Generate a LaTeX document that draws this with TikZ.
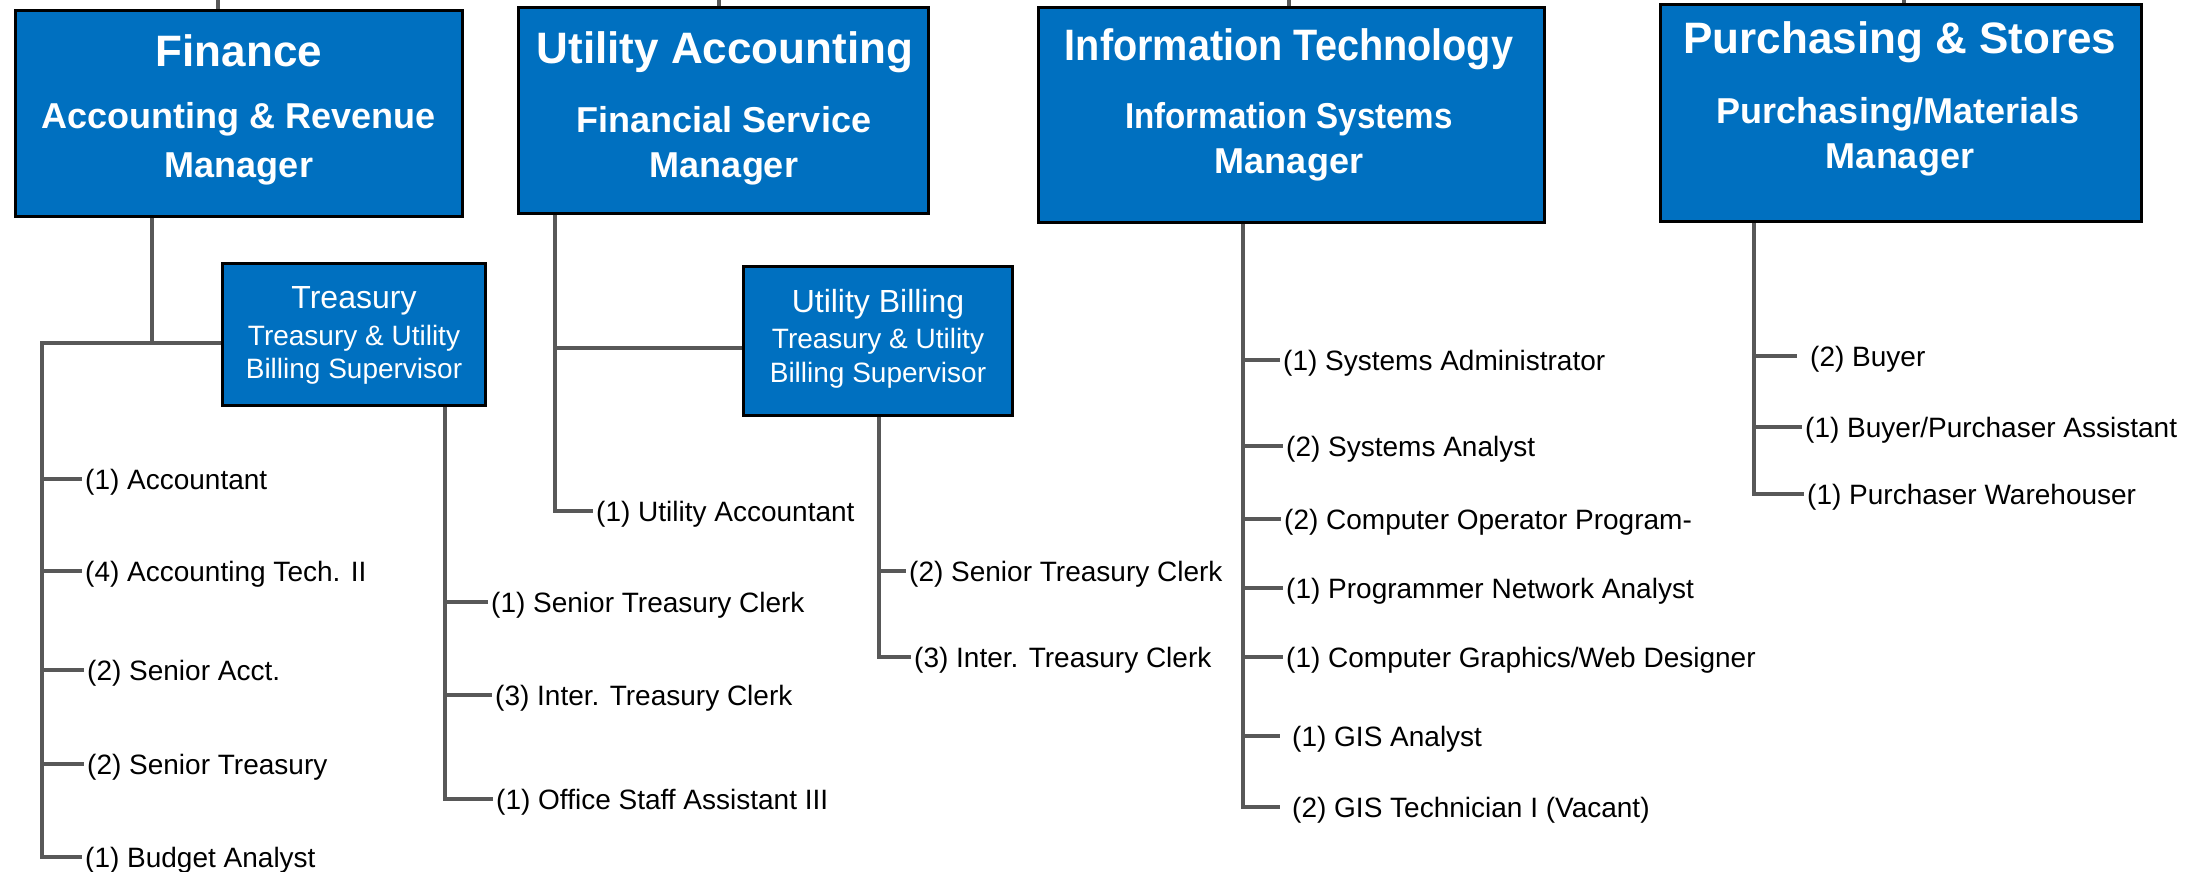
\documentclass[tikz,border=0pt]{standalone}
\usepackage{fontspec}
\usepackage{graphicx}
\setmainfont{Liberation Sans}
\definecolor{boxblue}{RGB}{0,112,192}
\definecolor{linegray}{RGB}{88,88,88}
\pgfdeclarelayer{bg}
\pgfsetlayers{bg,main}
\begin{document}
\begin{tikzpicture}[x=1pt,y=-1pt,
  bigbox/.style={draw=black, line width=3.2pt, fill=boxblue, inner sep=0pt},
  ttl/.style={anchor=base, inner sep=0pt, text=white, font=\fontsize{44}{48}\selectfont\bfseries},
  sub/.style={anchor=base, inner sep=0pt, text=white, font=\fontsize{36}{40}\selectfont\bfseries},
  sttl/.style={anchor=base, inner sep=0pt, text=white, font=\fontsize{32}{36}\selectfont},
  ssub/.style={anchor=base, inner sep=0pt, text=white, font=\fontsize{28}{32}\selectfont},
  leaf/.style={anchor=west, inner xsep=3pt, inner ysep=0pt, text height=20pt, text depth=0pt, font=\fontsize{28}{30}\selectfont},
  conn/.style={draw=linegray, line width=3.2pt}]
\useasboundingbox (0,0) rectangle (2201,871);

% ---------- top boxes ----------
\node[bigbox, minimum width=447pt, minimum height=206pt] (fin) at (239,113.5) {};
\node[ttl] (finT) at (239,66) {Finance};
\node[sub] (finS1) at (239,128) {Accounting \& Revenue};
\node[sub] (finS2) at (239,177) {Manager};

\node[bigbox, minimum width=410pt, minimum height=206pt] (ua) at (723.5,110.5) {};
\node[ttl] (uaT) at (725,63) {Utility Accounting};
\node[sub] (uaS1) at (724,132) {Financial Service};
\node[sub] (uaS2) at (724,177) {Manager};

\node[bigbox, minimum width=506pt, minimum height=215pt] (it) at (1291.5,115) {};
\node[ttl] (itT) at (1289,60) {\scalebox{0.9}[1]{Information Technology}};
\node[sub] (itS1) at (1289,128) {\scalebox{0.92}[1]{Information Systems}};
\node[sub] (itS2) at (1289,173) {Manager};

\node[bigbox, minimum width=481pt, minimum height=217pt] (ps) at (1901,113) {};
\node[ttl] (psT) at (1900,53) {Purchasing \& Stores};
\node[sub] (psS1) at (1898,123) {Purchasing/Materials};
\node[sub] (psS2) at (1900,168) {Manager};

% ---------- second-level boxes ----------
\node[bigbox, minimum width=263pt, minimum height=142pt] (tr) at (354,334.5) {};
\node[sttl] (trT) at (354,308) {Treasury};
\node[ssub] (trS1) at (354,345) {Treasury \& Utility};
\node[ssub] (trS2) at (354,378) {Billing Supervisor};

\node[bigbox, minimum width=269pt, minimum height=149pt] (ub) at (878,341) {};
\node[sttl] (ubT) at (878,312) {Utility Billing};
\node[ssub] (ubS1) at (878,348) {Treasury \& Utility};
\node[ssub] (ubS2) at (878,382) {Billing Supervisor};

% ---------- leaves ----------
\node[leaf] (f1) at (82,479) {(1) Accountant};
\node[leaf] (f2) at (82,571) {(4) Accounting Tech. II};
\node[leaf] (f3) at (84,670) {(2) Senior Acct.};
\node[leaf] (f4) at (84,764) {(2) Senior Treasury};
\node[leaf] (f5) at (82,857) {(1) Budget Analyst};

\node[leaf] (t1) at (488,602) {(1) Senior Treasury Clerk};
\node[leaf] (t2) at (492,695) {(3) Inter. Treasury Clerk};
\node[leaf] (t3) at (493,799) {(1) Office Staff Assistant III};

\node[leaf] (u1) at (593,511) {(1) Utility Accountant};

\node[leaf] (b1) at (906,571) {(2) Senior Treasury Clerk};
\node[leaf] (b2) at (911,657) {(3) Inter. Treasury Clerk};

\node[leaf] (i1) at (1280,360) {(1) Systems Administrator};
\node[leaf] (i2) at (1283,446) {(2) Systems Analyst};
\node[leaf] (i3) at (1281,519) {(2) Computer Operator Program-};
\node[leaf] (i4) at (1283,588) {(1) Programmer Network Analyst};
\node[leaf] (i5) at (1283,657) {(1) Computer Graphics/Web Designer};
\node[leaf, inner xsep=12pt] (i6) at (1280,736) {(1) GIS Analyst};
\node[leaf, inner xsep=12pt] (i7) at (1280,807) {(2) GIS Technician I (Vacant)};

\node[leaf, inner xsep=13pt] (p1) at (1797,356) {(2) Buyer};
\node[leaf] (p2) at (1802,427) {(1) Buyer/Purchaser Assistant};
\node[leaf] (p3) at (1804,494) {(1) Purchaser Warehouser};

% ---------- junction coordinates ----------
\coordinate (s1) at (218,0);
\coordinate (s2) at (719,0);
\coordinate (s3) at (1289,0);
\coordinate (s4) at (1904,0);
\coordinate (finJ) at (152,343);
\coordinate (finL) at (42,343);
\coordinate (trX) at (445,0);
\coordinate (uaX) at (555,0);
\coordinate (uaJ) at (555,348);
\coordinate (ubX) at (879,0);
\coordinate (itX) at (1243,0);
\coordinate (psX) at (1754,0);

\begin{pgfonlayer}{bg}
% stubs to parent above
\draw[conn] (s1) -- (s1 |- fin.north);
\draw[conn] (s2) -- (s2 |- ua.north);
\draw[conn] (s3) -- (s3 |- it.north);
\draw[conn] (s4) -- (s4 |- ps.north);
% Finance
\draw[conn] (fin.south -| finJ) -- (finJ);
\draw[conn] (tr.west |- finJ) -- (finL) |- (f5.west);
\draw[conn] (finL |- f1.west) -- (f1.west);
\draw[conn] (finL |- f2.west) -- (f2.west);
\draw[conn] (finL |- f3.west) -- (f3.west);
\draw[conn] (finL |- f4.west) -- (f4.west);
% Treasury
\draw[conn] (tr.south -| trX) |- (t3.west);
\draw[conn] (trX |- t1.west) -- (t1.west);
\draw[conn] (trX |- t2.west) -- (t2.west);
% Utility Accounting
\draw[conn] (ua.south -| uaX) |- (u1.west);
\draw[conn] (uaJ) -- (ub.west |- uaJ);
% Utility Billing
\draw[conn] (ub.south -| ubX) |- (b2.west);
\draw[conn] (ubX |- b1.west) -- (b1.west);
% Information Technology
\draw[conn] (it.south -| itX) |- (i7.west);
\draw[conn] (itX |- i1.west) -- (i1.west);
\draw[conn] (itX |- i2.west) -- (i2.west);
\draw[conn] (itX |- i3.west) -- (i3.west);
\draw[conn] (itX |- i4.west) -- (i4.west);
\draw[conn] (itX |- i5.west) -- (i5.west);
\draw[conn] (itX |- i6.west) -- (i6.west);
% Purchasing
\draw[conn] (ps.south -| psX) |- (p3.west);
\draw[conn] (psX |- p1.west) -- (p1.west);
\draw[conn] (psX |- p2.west) -- (p2.west);
\end{pgfonlayer}
\end{tikzpicture}
\end{document}
